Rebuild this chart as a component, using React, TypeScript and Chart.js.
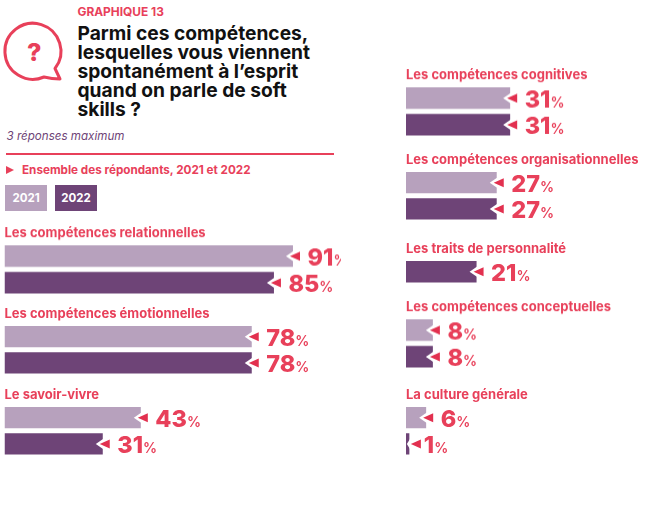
import React, { useEffect, useRef } from "react";
import { Chart, registerables } from "chart.js";

Chart.register(...registerables);

const skills = [
  "Les compétences relationnelles",
  "Les compétences émotionnelles",
  "Le savoir-vivre",
  "Les compétences cognitives",
  "Les compétences organisationnelles",
  "Les traits de personnalité",
  "Les compétences conceptuelles",
  "La culture générale",
];
const years = ["2021", "2022"];
const values2021: (number | null)[] = [91, 78, 43, 31, 27, null, 8, 6];
const values2022: (number | null)[] = [85, 78, 31, 31, 27, 21, 8, 1];

const LIGHT = "#b7a1bd";
const DARK = "#6e4477";
const RED = "#e8405a";
const ARROW = "#e2304f";
const FONT = "Inter, 'Open Sans', sans-serif";

const ROW = 26.5;
const BAR = 21.5;
const TITLE_H = 17.6;

const LEFT_PANEL = { left: 0, width: 341, pad: 4.5, pxPerUnit: 3.17 };
const RIGHT_PANEL = { left: 400, width: 261, pad: 6, pxPerUnit: 3.36 };
const groupPlacement = [
  { panel: LEFT_PANEL, barTop: 245.5 },
  { panel: LEFT_PANEL, barTop: 326 },
  { panel: LEFT_PANEL, barTop: 407 },
  { panel: RIGHT_PANEL, barTop: 87.5 },
  { panel: RIGHT_PANEL, barTop: 172 },
  { panel: RIGHT_PANEL, barTop: 261 },
  { panel: RIGHT_PANEL, barTop: 319.5 },
  { panel: RIGHT_PANEL, barTop: 407 },
];

const valueLabels = {
  id: "valueLabels",
  afterDatasetsDraw(chart: any) {
    const { ctx } = chart;
    const data = chart.data.datasets[0].data;
    chart.getDatasetMeta(0).data.forEach((el: any, i: number) => {
      const x = el.x;
      const y = el.y;
      const inset = x - chart.chartArea.left < 10 ? -1.5 : 3;
      ctx.save();
      ctx.fillStyle = "#ffffff";
      ctx.beginPath();
      ctx.moveTo(x - inset - 4, y);
      ctx.lineTo(x + 1, y - 5.5);
      ctx.lineTo(x + 1, y + 5.5);
      ctx.closePath();
      ctx.fill();
      ctx.fillStyle = ARROW;
      ctx.beginPath();
      ctx.moveTo(x - inset, y);
      ctx.lineTo(x - inset + 10, y - 4.5);
      ctx.lineTo(x - inset + 10, y + 4.5);
      ctx.closePath();
      ctx.fill();
      ctx.fillStyle = RED;
      ctx.textAlign = "left";
      ctx.textBaseline = "alphabetic";
      ctx.font = `800 23.5px ${FONT}`;
      const text = String(data[i]);
      const tx = x + 14.5;
      ctx.fillText(text, tx, y + 9);
      const w = ctx.measureText(text).width;
      ctx.font = `600 14px ${FONT}`;
      ctx.fillText("%", tx + w, y + 9);
      ctx.restore();
    });
  },
};

function SkillGroup({ index }: { index: number }) {
  const ref = useRef<HTMLCanvasElement>(null);
  const { panel, barTop } = groupPlacement[index];
  const v21 = values2021[index];
  const v22 = values2022[index];
  const labels = years.filter((_, i) => (i === 0 ? v21 : v22) != null);
  const values = [v21, v22].filter((v) => v != null);
  const colors = years
    .map((_, i) => (i === 0 ? LIGHT : DARK))
    .filter((_, i) => (i === 0 ? v21 : v22) != null);
  const height = TITLE_H + labels.length * ROW;
  const top = barTop - (ROW - BAR) / 2 - TITLE_H;

  useEffect(() => {
    const chart = new Chart(ref.current!, {
      type: "bar",
      data: {
        labels,
        datasets: [
          {
            data: values as number[],
            backgroundColor: colors,
            barPercentage: BAR / ROW,
            categoryPercentage: 1,
          },
        ],
      },
      options: {
        indexAxis: "y",
        responsive: false,
        animation: false,
        layout: { padding: { left: panel.pad, right: 0, top: 0, bottom: 0 } },
        scales: {
          x: {
            display: false,
            min: 0,
            max: (panel.width - panel.pad) / panel.pxPerUnit,
          },
          y: { display: false },
        },
        plugins: {
          legend: { display: false },
          tooltip: { enabled: false },
          title: {
            display: true,
            text: skills[index],
            align: "start",
            color: RED,
            font: { family: FONT, size: 13, weight: 700, lineHeight: 1.2 },
            padding: { top: 0, bottom: TITLE_H - 15.6 },
          },
        },
      },
      plugins: [valueLabels],
    } as any);
    return () => chart.destroy();
  }, []);

  return (
    <canvas
      ref={ref}
      width={panel.width}
      height={height}
      style={{ position: "absolute", left: panel.left, top, width: panel.width, height }}
    />
  );
}

const abs = (left: number, top: number, extra: React.CSSProperties = {}): React.CSSProperties => ({
  position: "absolute",
  left,
  top,
  fontFamily: FONT,
  whiteSpace: "nowrap",
  ...extra,
});

const legendBox = (left: number, bg: string): React.CSSProperties =>
  abs(left, 185, {
    width: 42,
    height: 26,
    lineHeight: "27px",
    background: bg,
    color: "#fff",
    fontWeight: 700,
    fontSize: 11.5,
    textAlign: "center",
  });

export default function App() {
  return (
    <div style={{ position: "absolute", left: 0, top: 0, width: 661, height: 526, background: "#fff", overflow: "hidden" }}>
      <div style={abs(77.5, 3.5, { color: RED, fontWeight: 700, fontSize: 11.9, lineHeight: "15px" })}>GRAPHIQUE 13</div>
      <svg width={70} height={90} style={{ position: "absolute", left: 0, top: 15 }}>
        <path
          d="M 55 53.5 L 60 64 Q 52 64 44 62 A 28 28 0 1 1 55 53.5 Z"
          fill="none"
          stroke={RED}
          strokeWidth={3}
          strokeLinejoin="round"
        />
      </svg>
      <div style={abs(27, 39, { color: RED, fontWeight: 800, fontSize: 25, lineHeight: "26px" })}>?</div>
      <div style={abs(77.5, 23.5, { color: "#111", fontWeight: 700, fontSize: 19.2, lineHeight: "19.2px" })}>
        Parmi ces compétences,
        <br />
        lesquelles vous viennent
        <br />
        spontanément à l’esprit
        <br />
        quand on parle de soft
        <br />
        skills ?
      </div>
      <div style={abs(6.5, 129, { color: "#6e4477", fontStyle: "italic", fontSize: 11.6, lineHeight: "15px" })}>3 réponses maximum</div>
      <div style={{ position: "absolute", left: 6, top: 153, width: 328, height: 2, background: RED }} />
      <svg width={9} height={9} style={{ position: "absolute", left: 6, top: 166 }}>
        <polygon points="0,0 8,4 0,8" fill={RED} />
      </svg>
      <div style={abs(22, 162, { color: RED, fontWeight: 700, fontSize: 11.7, lineHeight: "16px" })}>
        Ensemble des répondants, 2021 et 2022
      </div>
      <div style={legendBox(5, LIGHT)}>{years[0]}</div>
      <div style={legendBox(55, DARK)}>{years[1]}</div>
      {skills.map((_, i) => (
        <SkillGroup key={i} index={i} />
      ))}
    </div>
  );
}
